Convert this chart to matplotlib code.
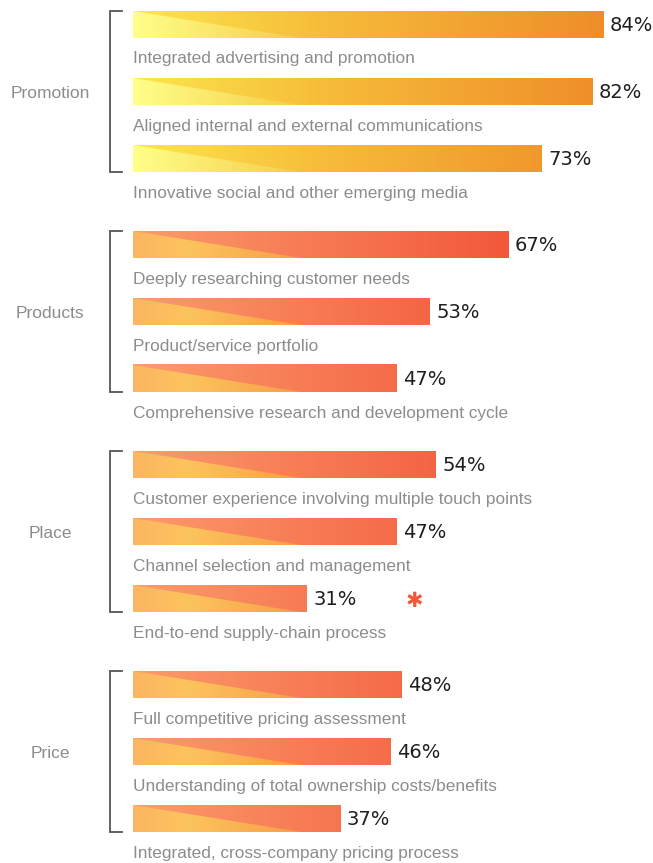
import matplotlib
matplotlib.use("Agg")
import matplotlib.pyplot as plt
import numpy as np
from matplotlib.colors import to_rgb
from matplotlib.patches import Polygon

# ── Data ───────────────────────────────────────────────────────────────────
groups = ["Promotion", "Products", "Place", "Price"]
items = [
    ["Integrated advertising and promotion",
     "Aligned internal and external communications",
     "Innovative social and other emerging media"],
    ["Deeply researching customer needs",
     "Product/service portfolio",
     "Comprehensive research and development cycle"],
    ["Customer experience involving multiple touch points",
     "Channel selection and management",
     "End-to-end supply-chain process"],
    ["Full competitive pricing assessment",
     "Understanding of total ownership costs/benefits",
     "Integrated, cross-company pricing process"],
]
values = [
    [84, 82, 73],
    [67, 53, 47],
    [54, 47, 31],
    [48, 46, 37],
]
flagged = ("Place", 2)  # row marked with an asterisk

# ── Layout (pixels) ────────────────────────────────────────────────────────
W, H = 653, 863
X0 = 133            # pixel where 0% sits
PX_PER_PCT = 5.6
TOP0 = 11           # top of first bar
ROW_STEP = 67
GROUP_STEP = 220
BAR_H = 27
TRI_W = 30          # width (in %) of the lower-left diagonal wedge

# gradient stops: (position in %, colour)
promo_upper = [(0, "#fde64c"), (35, "#f6bb3a"), (84, "#ef8d29")]
promo_lower = [(0, "#ffff8a"), (30, "#f6cc48")]
other_upper = [(0, "#fc9c6c"), (30, "#f77c55"), (68, "#f2573a")]
other_lower = [(0, "#fdb563"), (10, "#fcc45c"), (30, "#f79e48")]


def gradient(stops, xs):
    pos = [s[0] for s in stops]
    cols = np.array([to_rgb(s[1]) for s in stops])
    rgb = np.stack([np.interp(xs, pos, cols[:, k]) for k in range(3)], axis=-1)
    return rgb[None, :, :]


fig = plt.figure(figsize=(W / 100, H / 100), dpi=100)
ax = fig.add_axes([0, 0, 1, 1])
ax.set_xlim(-X0 / PX_PER_PCT, (W - X0) / PX_PER_PCT)
ax.set_ylim(H, 0)
ax.axis("off")

for g, (grp, labels, vals) in enumerate(zip(groups, items, values)):
    upper = promo_upper if g == 0 else other_upper
    lower = promo_lower if g == 0 else other_lower
    tops = []
    for i, (lab, v) in enumerate(zip(labels, vals)):
        top = TOP0 + g * GROUP_STEP + i * ROW_STEP
        bot = top + BAR_H
        tops.append(top)
        xs = np.linspace(0, v, 400)
        ax.imshow(gradient(upper, xs), extent=[0, v, bot, top],
                  aspect="auto", interpolation="bilinear", zorder=2)
        im = ax.imshow(gradient(lower, xs), extent=[0, v, bot, top],
                       aspect="auto", interpolation="bilinear", zorder=3)
        tri = Polygon([(0, top), (0, bot), (TRI_W, bot)], closed=True,
                      transform=ax.transData, facecolor="none", edgecolor="none")
        ax.add_patch(tri)
        im.set_clip_path(tri)

        ax.text(v + 1.2, top + BAR_H / 2 + 1, f"{v}%", fontsize=14,
                color="#1e1e1e", va="center", ha="left",
                family="DejaVu Sans")
        ax.text(0, bot + 21, lab, fontsize=12.4, color="#8c8c8c",
                va="center", ha="left", family="Liberation Sans")
        if (grp, i) == flagged:
            ax.text(50.3, top + BAR_H / 2 + 2, "✱", fontsize=15,
                    color="#f05a3a", va="center", ha="center",
                    family="DejaVu Sans")

    # bracket
    y1, y2 = tops[0], tops[-1] + BAR_H
    bx, tx = -4.1, -2.0
    ax.plot([tx, bx, bx, tx], [y1, y1, y2, y2], color="#555555", lw=1.3,
            solid_joinstyle="miter", clip_on=False)
    ax.text(-14.8, (y1 + y2) / 2 + 2, grp, fontsize=12.5, color="#8c8c8c",
            va="center", ha="center", family="Liberation Sans")

plt.savefig("out.png", dpi=100)
